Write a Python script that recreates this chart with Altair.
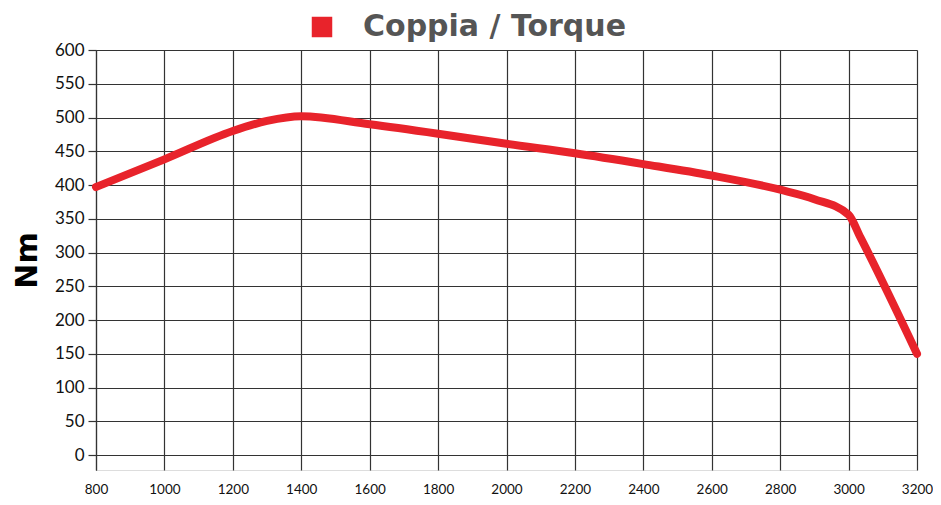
import altair as alt
import pandas as pd

rpm = [800, 1000, 1200, 1300, 1400, 1600, 1800, 2000, 2200, 2400, 2600, 2800, 2900, 3000, 3035, 3200]
torque = [397, 438, 480, 495, 502, 490, 476, 461, 447, 431, 414, 393, 379, 356, 322, 150]
series = ["Coppia / Torque"] * len(rpm)

df = pd.DataFrame({"rpm": rpm, "Nm": torque, "serie": series})

x_ticks = list(range(800, 3201, 200))
y_ticks = list(range(0, 601, 50))
RED = "#e8232b"

chart = alt.Chart(df).mark_line(
    strokeWidth=8, interpolate="monotone", strokeCap="round", strokeJoin="round"
).encode(
    x=alt.X("rpm:Q", scale=alt.Scale(domain=[800, 3200], nice=False, zero=False),
            axis=alt.Axis(values=x_ticks, title=None, domain=False, ticks=False,
                          grid=True, gridColor="#333333", gridWidth=1.2, gridOpacity=1,
                          labelFontSize=13.5, labelFont="Lato", labelColor="#111111",
                          labelPadding=12, labelFlush=False, labelBound=False,
                          labelOverlap=False, format="d")),
    y=alt.Y("Nm:Q", scale=alt.Scale(domain=[-22.2, 600], nice=False, zero=False),
            axis=alt.Axis(values=y_ticks, title="Nm", titleFontSize=30, titleFont="DejaVu Sans",
                          titleFontWeight="bold", titleColor="#000000", titlePadding=12,
                          domain=True, domainColor="#333333", domainWidth=1.2,
                          ticks=True, tickSize=8, tickColor="#333333", tickWidth=1.2,
                          grid=True, gridColor="#333333", gridWidth=1.2, gridOpacity=1,
                          labelFontSize=17, labelFont="Lato", labelColor="#111111",
                          labelPadding=4, format="d")),
    color=alt.Color("serie:N", scale=alt.Scale(domain=["Coppia / Torque"], range=[RED]),
                    legend=alt.Legend(title=None, orient="none", legendX=211, legendY=-38,
                                      symbolType="square", symbolSize=420,
                                      symbolFillColor=RED, symbolStrokeColor=RED,
                                      symbolStrokeWidth=0, symbolOpacity=1,
                                      labelFontSize=30, labelFont="DejaVu Sans",
                                      labelFontWeight="bold", labelColor="#555555",
                                      labelOffset=26, labelLimit=500)),
).properties(
    width=821, height=420,
    padding={"left": 88, "top": 42, "right": 16, "bottom": 27},
    autosize="none",
).configure_view(stroke=None).configure(background="white")

chart.save("out.html", embed_options={"renderer": "svg", "actions": False})
